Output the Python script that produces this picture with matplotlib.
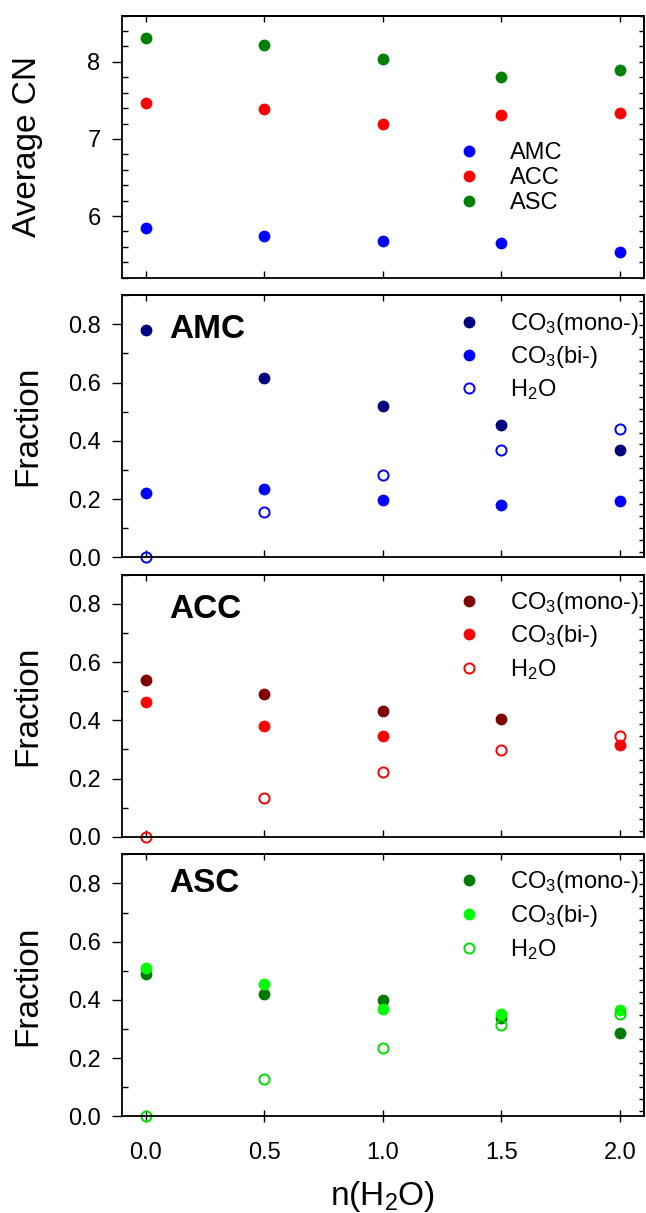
import numpy as np
import matplotlib
matplotlib.use("Agg")
import matplotlib.pyplot as plt
from matplotlib.ticker import MultipleLocator, FixedLocator

plt.rcParams['font.family'] = ['Liberation Sans', 'DejaVu Sans']
plt.rcParams['mathtext.fontset'] = 'custom'
plt.rcParams['mathtext.rm'] = 'Liberation Sans'
plt.rcParams['mathtext.it'] = 'Liberation Sans:italic'
plt.rcParams['mathtext.bf'] = 'Liberation Sans:bold'

# ---------------- data ----------------
n_h2o = [0.0, 0.5, 1.0, 1.5, 2.0]
x_ticklabels = ['0.0', '0.5', '1.0', '1.5', '2.0']

cn_amc = [5.85, 5.74, 5.68, 5.65, 5.53]
cn_acc = [7.46, 7.39, 7.20, 7.31, 7.34]
cn_asc = [8.31, 8.225, 8.04, 7.81, 7.90]

amc_mono = [0.782, 0.615, 0.520, 0.456, 0.370]
amc_bi = [0.220, 0.233, 0.198, 0.178, 0.193]
amc_h2o = [0.0, 0.154, 0.284, 0.367, 0.439]

acc_mono = [0.539, 0.490, 0.431, 0.406, np.nan]
acc_bi = [0.463, 0.379, 0.347, np.nan, 0.315]
acc_h2o = [0.0, 0.132, 0.222, 0.297, 0.345]

asc_mono = [0.488, 0.421, 0.401, 0.337, 0.287]
asc_bi = [0.511, 0.453, 0.368, 0.353, 0.366]
asc_h2o = [0.0, 0.127, 0.233, 0.312, 0.351]

cn_labels = ['AMC', 'ACC', 'ASC']
frac_labels = ['CO$_\\mathregular{3}$(mono-)', 'CO$_\\mathregular{3}$(bi-)', 'H$_\\mathregular{2}$O']
panel_names = ['AMC', 'ACC', 'ASC']

# ---------------- style ----------------
FS = 17
LABFS = 24
fig = plt.figure(figsize=(6.46, 12.13), dpi=100)

left, width, height = 0.1889, 0.8073, 0.2160
bottoms = [0.7711, 0.5406, 0.3102, 0.0797]
axes = [fig.add_axes([left, b, width, height]) for b in bottoms]

filled_kw = dict(linestyle='none', marker='o', markersize=8.5, markeredgewidth=0)
open_kw = dict(linestyle='none', marker='o', markersize=7.3, markeredgewidth=1.4,
               markerfacecolor='none')


def style_axis(ax, is_bottom, right_ticks):
    for sp in ax.spines.values():
        sp.set_linewidth(1.3)
    ax.set_xlim(-0.1, 2.1)
    ax.xaxis.set_major_locator(FixedLocator(n_h2o))
    if is_bottom:
        ax.set_xticklabels(x_ticklabels)
        ax.tick_params(axis='x', which='major', direction='inout', length=9,
                       width=1.0, pad=14, labelsize=FS)
    else:
        ax.tick_params(axis='x', which='major', direction='in', length=5,
                       width=1.0, labelbottom=False)
    ax.tick_params(axis='y', which='major', direction='out', length=7,
                   width=1.0, pad=8.5, labelsize=FS)
    ax.tick_params(axis='y', which='minor', direction='in', length=4.3,
                   width=1.0)
    top = ax.secondary_xaxis('top')
    top.xaxis.set_major_locator(FixedLocator(n_h2o))
    top.tick_params(axis='x', direction='in', length=4, width=1.0,
                    labeltop=False)
    top.spines['top'].set_linewidth(1.3)
    rt = ax.secondary_yaxis('right')
    rt.yaxis.set_major_locator(FixedLocator(right_ticks))
    rt.tick_params(axis='y', direction='in', length=3.5, width=1.0,
                   labelright=False)
    rt.spines['right'].set_linewidth(1.3)


# ---------- panel 1 ----------
ax = axes[0]
ax.plot(n_h2o, cn_amc, color='#0000FF', label=cn_labels[0], **filled_kw)
ax.plot(n_h2o, cn_acc, color='#FF0000', label=cn_labels[1], **filled_kw)
ax.plot(n_h2o, cn_asc, color='#008000', label=cn_labels[2], **filled_kw)
ax.set_ylim(5.2, 8.6)
ax.yaxis.set_major_locator(FixedLocator([6, 7, 8]))
ax.set_yticklabels(['6', '7', '8'])
ax.yaxis.set_minor_locator(MultipleLocator(0.2))
style_axis(ax, False, list(np.arange(5.2, 8.61, 0.2)))
ax.set_ylabel('Average CN', fontsize=LABFS)
ax.yaxis.set_label_coords(-0.152, 0.5)
ax.legend(loc='upper left', bbox_to_anchor=(0.643, 0.517), borderaxespad=0,
          borderpad=0, frameon=False, handlelength=1.0, handletextpad=1.22,
          labelspacing=0.12, fontsize=FS)

# ---------- fraction panels ----------
series = [
    (amc_mono, amc_bi, amc_h2o, '#000080', '#0000FF', '#0000FF'),
    (acc_mono, acc_bi, acc_h2o, '#800000', '#FF0000', '#FF0000'),
    (asc_mono, asc_bi, asc_h2o, '#007A00', '#00FF00', '#00E000'),
]
name_y = [0.868, 0.866, 0.889]
leg_top = [0.939, 0.942, 0.944]
leg_space = [0.30, 0.32, 0.35]
right_frac_ticks = list(np.linspace(0.019, 0.879, 22))

for i, (mono, bi, h2o, c1, c2, c3) in enumerate(series):
    ax = axes[i + 1]
    ax.plot(n_h2o, mono, color=c1, label=frac_labels[0], **filled_kw)
    ax.plot(n_h2o, bi, color=c2, label=frac_labels[1], **filled_kw)
    ax.plot(n_h2o, h2o, color=c3, markeredgecolor=c3, label=frac_labels[2],
            clip_on=False, **open_kw)
    ax.set_ylim(0.0, 0.9)
    ax.yaxis.set_major_locator(FixedLocator([0.0, 0.2, 0.4, 0.6, 0.8]))
    ax.set_yticklabels(['0.0', '0.2', '0.4', '0.6', '0.8'])
    ax.yaxis.set_minor_locator(FixedLocator([0.1, 0.3, 0.5, 0.7, 0.9]))
    style_axis(ax, i == 2, right_frac_ticks)
    ax.set_ylabel('Fraction', fontsize=LABFS)
    ax.yaxis.set_label_coords(-0.152, 0.5)
    ax.text(0.09, name_y[i], panel_names[i], transform=ax.transAxes,
            fontsize=LABFS, fontweight='bold', ha='left', va='center')
    ax.legend(loc='upper left', bbox_to_anchor=(0.643, leg_top[i]),
              borderaxespad=0, borderpad=0, frameon=False, handlelength=1.0,
              handletextpad=1.22, labelspacing=leg_space[i], fontsize=FS)

axes[3].set_xlabel('n(H$_\\mathregular{2}$O)', fontsize=LABFS)
axes[3].xaxis.set_label_coords(0.5, -0.24)

fig.savefig('out.png', dpi=100)
